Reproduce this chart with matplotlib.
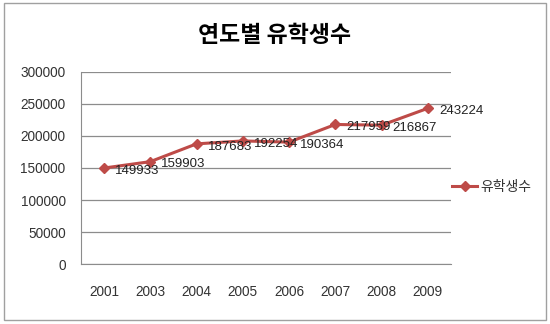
import matplotlib
matplotlib.use('Agg')
import matplotlib.pyplot as plt
from matplotlib.patches import Rectangle

plt.rcParams['font.family'] = ['Noto Sans CJK KR', 'DejaVu Sans']

years = ['2001', '2003', '2004', '2005', '2006', '2007', '2008', '2009']
students = [149933, 159903, 187683, 192254, 190364, 217959, 216867, 243224]
y_ticks = [0, 50000, 100000, 150000, 200000, 250000, 300000]

line_color = '#be4b48'
grid_color = '#8c8c8c'
text_color = '#333333'

fig = plt.figure(figsize=(5.5, 3.24), dpi=100)
fig.patches.append(Rectangle((0.007, 0.012), 0.986, 0.978, transform=fig.transFigure,
                             fill=False, edgecolor='#a0a0a0', linewidth=1))

ax = fig.add_axes([0.147, 0.185, 0.673, 0.593])
x = list(range(len(years)))
ax.plot(x, students, color=line_color, linewidth=2.2, marker='D', markersize=5,
        label='유학생수')

# data labels to the right of each point
for xi, v in zip(x, students):
    ax.annotate(str(v), (xi, v), xytext=(8, -2), textcoords='offset points',
                ha='left', va='center', fontsize=9.5, color='#222222',
                family='Liberation Sans')

ax.set_xlim(-0.5, len(years) - 0.5)
ax.set_ylim(0, 300000)
ax.set_yticks(y_ticks)
ax.set_yticklabels([str(t) for t in y_ticks])
ax.set_xticks(x)
ax.set_xticklabels(years)
ax.grid(axis='y', color=grid_color, linewidth=0.9)
ax.set_axisbelow(True)
for side in ['top', 'right']:
    ax.spines[side].set_visible(False)
for side in ['left', 'bottom']:
    ax.spines[side].set_color(grid_color)
ax.tick_params(length=0, labelsize=9.8, colors=text_color)
ax.tick_params(axis='y', pad=11)
ax.tick_params(axis='x', pad=15)
for lbl in ax.get_xticklabels() + ax.get_yticklabels():
    lbl.set_family('Liberation Sans')

fig.text(0.5, 0.89, '연도별 유학생수', ha='center', va='center',
         fontsize=16.5, fontweight='bold', color='black')

ax.legend(loc='center left', bbox_to_anchor=(0.97, 0.4), frameon=False,
          fontsize=10, handlelength=1.8, handletextpad=0.2, labelcolor='#333333')

fig.savefig('out.png', dpi=100)
